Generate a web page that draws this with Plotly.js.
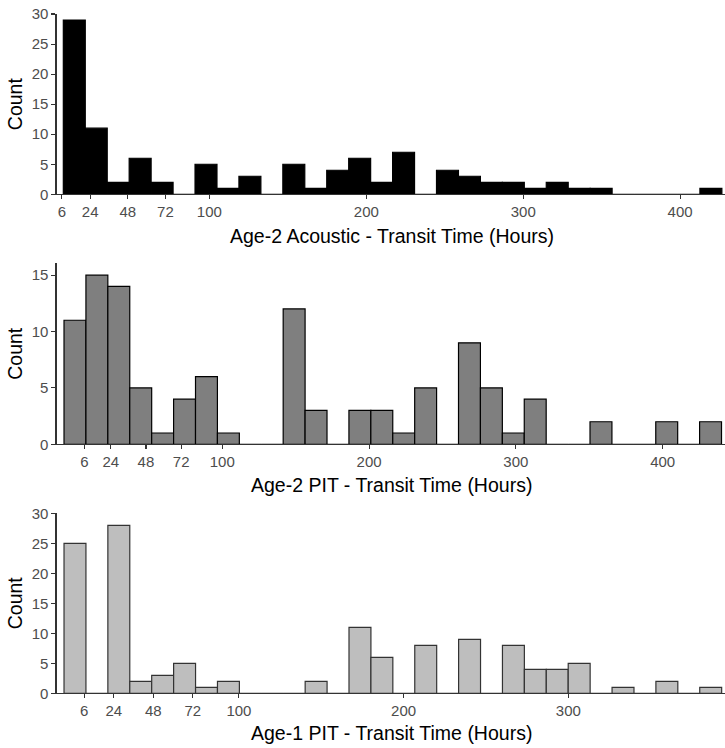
<!DOCTYPE html>
<html>
<head>
<meta charset="utf-8">
<script src="https://cdn.plot.ly/plotly-3.0.1.min.js"></script>
<style>html,body{margin:0;padding:0;background:#fff;}#chart{width:725px;height:748px;}</style>
</head>
<body>
<div id="chart"></div>
<script>
// ---- Data (histogram bins) ----
// Panel 1: Age-2 Acoustic
const binCenters1 = [13.90, 27.89, 41.88, 55.87, 69.86, 83.85, 97.84, 111.83, 125.82, 139.81,
  153.80, 167.79, 181.78, 195.77, 209.76, 223.75, 237.74, 251.73, 265.72, 279.71,
  293.70, 307.69, 321.68, 335.67, 349.66, 363.65, 377.64, 391.63, 405.62, 419.61];
const counts1 = [29, 11, 2, 6, 2, 0, 5, 1, 3, 0,
  5, 1, 4, 6, 2, 7, 0, 4, 3, 2,
  2, 1, 2, 1, 1, 0, 0, 0, 0, 1];
const binWidth1 = 13.99;

// Panel 2: Age-2 PIT
const binCenters2 = [-0.36, 14.57, 29.50, 44.43, 59.36, 74.29, 89.22, 104.15, 119.08, 134.01,
  148.94, 163.87, 178.80, 193.73, 208.66, 223.59, 238.52, 253.45, 268.38, 283.31,
  298.24, 313.17, 328.10, 343.03, 357.96, 372.89, 387.82, 402.75, 417.68, 432.61];
const counts2 = [11, 15, 14, 5, 1, 4, 6, 1, 0, 0,
  12, 3, 0, 3, 3, 1, 5, 0, 9, 5,
  1, 4, 0, 0, 2, 0, 0, 2, 0, 2];
const binWidth2 = 14.93;

// Panel 3: Age-1 PIT
const binCenters3 = [0.46, 13.77, 27.08, 40.39, 53.70, 67.01, 80.32, 93.63, 106.94, 120.25,
  133.56, 146.87, 160.18, 173.49, 186.80, 200.11, 213.42, 226.73, 240.04, 253.35,
  266.66, 279.97, 293.28, 306.59, 319.90, 333.21, 346.52, 359.83, 373.14, 386.45];
const counts3 = [25, 0, 28, 2, 3, 5, 1, 2, 0, 0,
  0, 2, 0, 11, 6, 0, 8, 0, 9, 0,
  8, 4, 4, 5, 0, 1, 0, 2, 0, 1];
const binWidth3 = 13.31;

const xTicks12 = [6, 24, 48, 72, 100, 200, 300, 400];
const xTicks3 = [6, 24, 48, 72, 100, 200, 300];
const yTicks1 = [0, 5, 10, 15, 20, 25, 30];
const yTicks2 = [0, 5, 10, 15];
const yTicks3 = [0, 5, 10, 15, 20, 25, 30];

const xTitles = ['Age-2 Acoustic - Transit Time (Hours)', 'Age-2 PIT - Transit Time (Hours)', 'Age-1 PIT - Transit Time (Hours)'];
const yTitle = 'Count';

// ---- Layout geometry ----
const W = 725, H = 748;
const FONT = 'Arial, "Liberation Sans", sans-serif';
const left = 56.5 / W;
const doms = [
  [1 - 194.3 / H, 1 - 14 / H],
  [1 - 444.3 / H, 1 - 263.3 / H],
  [1 - 693.3 / H, 1 - 513.3 / H]
];
const titleY = [236, 485, 733];
const yTitleX = 15;

function barTrace(x, y, w, fill, line, xa, ya) {
  return {
    type: 'bar', x: x, y: y, width: w, xaxis: xa, yaxis: ya,
    marker: {color: fill, line: {color: line, width: 1.2}},
    hoverinfo: 'x+y', showlegend: false
  };
}

const data = [
  barTrace(binCenters1, counts1, binWidth1, '#000000', '#000000', 'x', 'y'),
  barTrace(binCenters2, counts2, binWidth2, '#7F7F7F', '#000000', 'x2', 'y2'),
  barTrace(binCenters3, counts3, binWidth3, '#BEBEBE', '#333333', 'x3', 'y3')
];

function xaxis(range, ticks, anchor) {
  return {
    domain: [left, 1], range: range, anchor: anchor,
    tickmode: 'array', tickvals: ticks, ticktext: ticks.map(String),
    showline: true, linecolor: '#333333', linewidth: 1.1,
    ticks: 'outside', ticklen: 4, tickwidth: 1.1, tickcolor: '#333333',
    tickfont: {family: FONT, size: 15, color: '#4D4D4D'},
    showgrid: false, zeroline: false, fixedrange: true
  };
}
function yaxis(range, ticks, dom, anchor) {
  return {
    domain: dom, range: range, anchor: anchor,
    tickmode: 'array', tickvals: ticks, ticktext: ticks.map(String),
    showline: true, linecolor: '#333333', linewidth: 1.1,
    ticks: 'outside', ticklen: 4, tickwidth: 1.1, tickcolor: '#333333',
    tickfont: {family: FONT, size: 15, color: '#4D4D4D'},
    showgrid: false, zeroline: false, fixedrange: true
  };
}

const annotations = [];
for (let i = 0; i < 3; i++) {
  annotations.push({
    xref: 'paper', yref: 'paper', x: 392 / W, y: 1 - titleY[i] / H,
    xanchor: 'center', yanchor: 'middle', showarrow: false,
    text: xTitles[i], font: {family: FONT, size: 19.5, color: '#000000'}
  });
  annotations.push({
    xref: 'paper', yref: 'paper', x: yTitleX / W, y: (doms[i][0] + doms[i][1]) / 2,
    xanchor: 'center', yanchor: 'middle', showarrow: false, textangle: -90,
    text: yTitle, font: {family: FONT, size: 19.5, color: '#000000'}
  });
}

const layout = {
  width: W, height: H,
  margin: {l: 0, r: 0, t: 0, b: 0, pad: 0},
  paper_bgcolor: '#ffffff', plot_bgcolor: '#ffffff',
  bargap: 0, showlegend: false,
  xaxis: xaxis([2.56, 428.6], xTicks12, 'y'),
  yaxis: yaxis([0, 30], yTicks1, doms[0], 'x'),
  xaxis2: xaxis([-12.94, 442.45], xTicks12, 'y2'),
  yaxis2: yaxis([0, 16.05], yTicks2, doms[1], 'x2'),
  xaxis3: xaxis([-10.76, 395.13], xTicks3, 'y3'),
  yaxis3: yaxis([0, 30], yTicks3, doms[2], 'x3'),
  annotations: annotations
};

Plotly.newPlot('chart', data, layout, {displayModeBar: false, staticPlot: true});
</script>
</body>
</html>
